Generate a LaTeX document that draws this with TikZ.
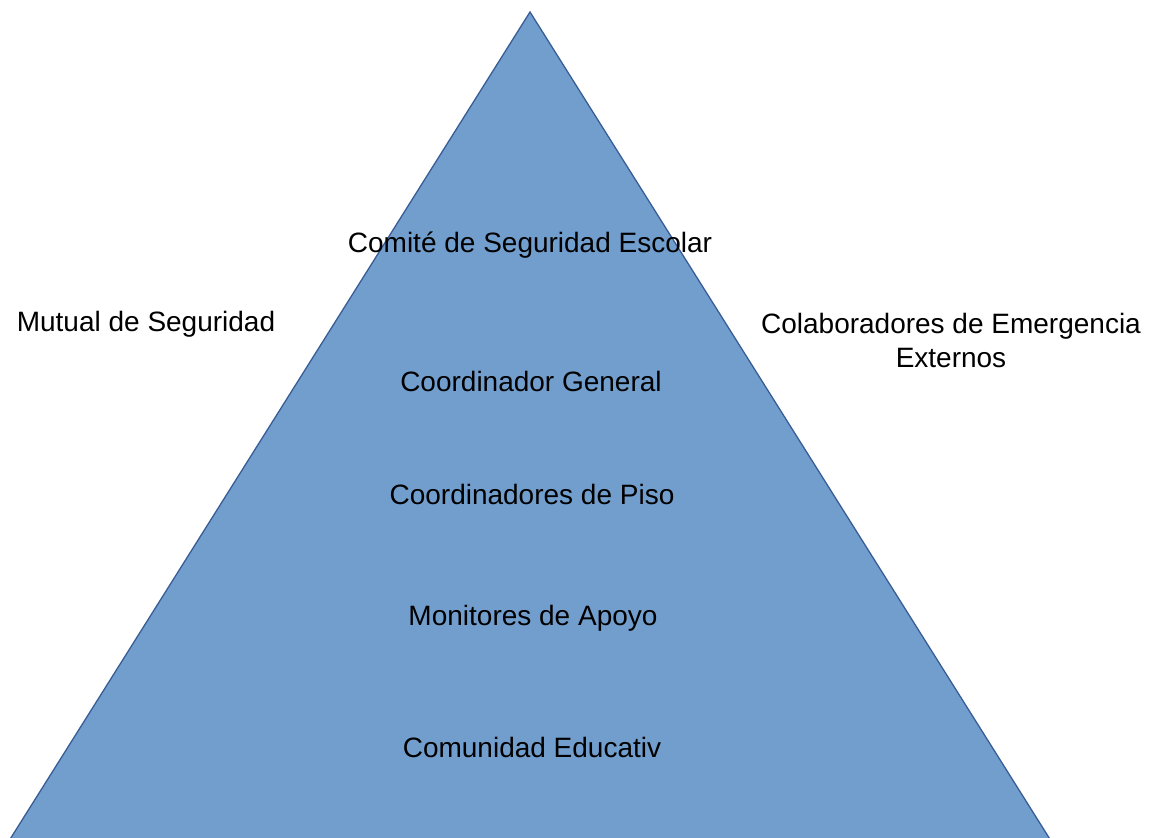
\documentclass[tikz,border=0pt]{standalone}
\usepackage{fontspec}
\setmainfont{Liberation Sans}
\definecolor{pyrfill}{RGB}{114,158,206}
\definecolor{pyredge}{RGB}{56,93,150}
\begin{document}
\begin{tikzpicture}[x=1pt,y=-1pt,
  lbl/.style={font=\fontsize{28}{34}\selectfont, text=black, inner sep=0pt, align=center}]
\useasboundingbox (0,0) rectangle (1149,838);
\clip (0,0) rectangle (1149,838);
\coordinate (apex) at (530,12);
\coordinate (bl) at (2,852);
\coordinate (br) at (1058,852);
\draw[fill=pyrfill, draw=pyredge, line width=1.3pt] (apex) -- (bl) -- (br) -- cycle;
\node[lbl] (comite) at (530,245) {Comité de Seguridad Escolar};
\node[lbl] (mutual) at (146,324) {Mutual de Seguridad};
\node[lbl] (colab) at (951,340) {Colaboradores de Emergencia\\Externos};
\node[lbl] (coordg) at (531,381) {Coordinador General};
\node[lbl] (coordp) at (532,494) {Coordinadores de Piso};
\node[lbl] (monit) at (533,618) {Monitores de Apoyo};
\node[lbl] (comun) at (532,747) {Comunidad Educativ};
\end{tikzpicture}
\end{document}
